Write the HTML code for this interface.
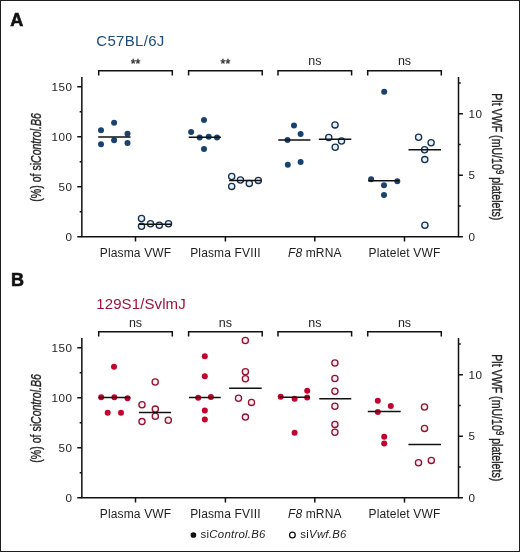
<!DOCTYPE html>
<html><head><meta charset="utf-8"><style>
html,body{margin:0;padding:0;background:#fff;}
svg{display:block;will-change:transform;}
text{font-family:"Liberation Sans",sans-serif;}
.lab{font-size:18px;font-weight:bold;fill:#111;stroke:#111;stroke-width:0.6px;}
.title{font-size:15px;}
.tl{font-size:11.7px;fill:#1e1e1e;letter-spacing:0.55px;}
.sig{font-size:12.5px;fill:#1e1e1e;}
.xl{font-size:12px;fill:#1e1e1e;letter-spacing:0.15px;}
.yt{font-size:14.3px;fill:#222;stroke:#222;stroke-width:0.35px;}
.lg{font-size:11.4px;fill:#1e1e1e;letter-spacing:0.25px;}
</style></head><body>
<svg width="520" height="552" viewBox="0 0 520 552">
<rect x="0.5" y="0.5" width="519" height="551" fill="#fff" stroke="#1e1e1e" stroke-width="1"/>
<text x="10.2" y="25.8" class="lab">A</text>
<text x="10.9" y="285.8" class="lab">B</text>
<path d="M81.85 77V236.8H458.5V77" fill="none" stroke="#111" stroke-width="1.5"/>
<path d="M77.25 236.8H81.85M77.25 186.8H81.85M77.25 136.8H81.85M77.25 86.8H81.85M79.65 211.8H81.85M79.65 161.8H81.85M79.65 111.8H81.85M458.5 236.8H462.9M458.5 175.3H462.9M458.5 113.8H462.9M458.5 206.05H460.7M458.5 144.55H460.7M458.5 83.05H460.7M135.5 236.8V241.4M225.4 236.8V241.4M314.8 236.8V241.4M404.5 236.8V241.4" fill="none" stroke="#111" stroke-width="1.5"/>
<text x="72.6" y="240.9" class="tl" text-anchor="end">0</text>
<text x="72.6" y="190.9" class="tl" text-anchor="end">50</text>
<text x="72.6" y="140.9" class="tl" text-anchor="end">100</text>
<text x="72.6" y="90.9" class="tl" text-anchor="end">150</text>
<text x="468.5" y="240.9" class="tl">0</text>
<text x="468.5" y="179.4" class="tl">5</text>
<text x="468.5" y="117.9" class="tl">10</text>
<path d="M98.7 75.6V70.7H172.3V75.6M188.6 75.6V70.7H262.2V75.6M278 75.6V70.7H351.6V75.6M367.7 75.6V70.7H441.3V75.6" fill="none" stroke="#111" stroke-width="1.5"/>
<text x="135.5" y="67.9" class="sig" text-anchor="middle" stroke="#1e1e1e" stroke-width="0.3">**</text>
<text x="225.4" y="67.9" class="sig" text-anchor="middle" stroke="#1e1e1e" stroke-width="0.3">**</text>
<text x="314.8" y="64.7" class="sig" text-anchor="middle">ns</text>
<text x="404.5" y="64.7" class="sig" text-anchor="middle">ns</text>
<text x="96.3" y="45.8" class="title" fill="#1d4b7c" letter-spacing="0.3">C57BL/6J</text>
<text x="135.5" y="256.9" class="xl" text-anchor="middle">Plasma VWF</text>
<text x="225.4" y="256.9" class="xl" text-anchor="middle">Plasma FVIII</text>
<text x="314.8" y="256.9" class="xl" text-anchor="middle"><tspan font-style="italic">F8</tspan> mRNA</text>
<text x="404.5" y="256.9" class="xl" text-anchor="middle">Platelet VWF</text>
<text class="yt" transform="translate(41.1 201.7) rotate(-90)" textLength="88.6" lengthAdjust="spacingAndGlyphs">(%) of si<tspan font-style="italic">Control.B6</tspan></text>
<text class="yt" transform="translate(491.5 93.2) rotate(90)" textLength="127.1" lengthAdjust="spacingAndGlyphs">Plt VWF (mU/10<tspan dy="-4.6" font-size="10.5">9</tspan><tspan dy="4.6"> platelets)</tspan></text>
<circle cx="101" cy="130.2" r="3.0" fill="#1a426f"/>
<circle cx="114.1" cy="122.8" r="3.0" fill="#1a426f"/>
<circle cx="101" cy="144.2" r="3.0" fill="#1a426f"/>
<circle cx="114.1" cy="140.2" r="3.0" fill="#1a426f"/>
<circle cx="127.5" cy="133.7" r="3.0" fill="#1a426f"/>
<circle cx="127.5" cy="142.9" r="3.0" fill="#1a426f"/>
<circle cx="204" cy="119.9" r="3.0" fill="#1a426f"/>
<circle cx="191.1" cy="132.1" r="3.0" fill="#1a426f"/>
<circle cx="199.7" cy="137.4" r="3.0" fill="#1a426f"/>
<circle cx="208.7" cy="136.7" r="3.0" fill="#1a426f"/>
<circle cx="217" cy="137.4" r="3.0" fill="#1a426f"/>
<circle cx="204" cy="148.9" r="3.0" fill="#1a426f"/>
<circle cx="294" cy="125.4" r="3.0" fill="#1a426f"/>
<circle cx="300.6" cy="134" r="3.0" fill="#1a426f"/>
<circle cx="287.5" cy="140" r="3.0" fill="#1a426f"/>
<circle cx="287.8" cy="164.8" r="3.0" fill="#1a426f"/>
<circle cx="300.6" cy="162.1" r="3.0" fill="#1a426f"/>
<circle cx="384.2" cy="91.7" r="3.0" fill="#1a426f"/>
<circle cx="371.1" cy="179.2" r="3.0" fill="#1a426f"/>
<circle cx="397.3" cy="181.2" r="3.0" fill="#1a426f"/>
<circle cx="384" cy="185.2" r="3.0" fill="#1a426f"/>
<circle cx="384" cy="195.1" r="3.0" fill="#1a426f"/>
<circle cx="141.5" cy="218.5" r="3.1" fill="#e4f2fd" stroke="#182f4c" stroke-width="1.3"/>
<circle cx="141.5" cy="226.2" r="3.1" fill="#e4f2fd" stroke="#182f4c" stroke-width="1.3"/>
<circle cx="150.5" cy="223.75" r="3.1" fill="#e4f2fd" stroke="#182f4c" stroke-width="1.3"/>
<circle cx="159.3" cy="225.2" r="3.1" fill="#e4f2fd" stroke="#182f4c" stroke-width="1.3"/>
<circle cx="168.5" cy="223.75" r="3.1" fill="#e4f2fd" stroke="#182f4c" stroke-width="1.3"/>
<circle cx="231.7" cy="176.5" r="3.1" fill="#e4f2fd" stroke="#182f4c" stroke-width="1.3"/>
<circle cx="231.7" cy="186.4" r="3.1" fill="#e4f2fd" stroke="#182f4c" stroke-width="1.3"/>
<circle cx="240.4" cy="180" r="3.1" fill="#e4f2fd" stroke="#182f4c" stroke-width="1.3"/>
<circle cx="249.3" cy="183.4" r="3.1" fill="#e4f2fd" stroke="#182f4c" stroke-width="1.3"/>
<circle cx="258.3" cy="180.4" r="3.1" fill="#e4f2fd" stroke="#182f4c" stroke-width="1.3"/>
<circle cx="335" cy="124.9" r="3.1" fill="#e4f2fd" stroke="#182f4c" stroke-width="1.3"/>
<circle cx="328.75" cy="137.4" r="3.1" fill="#e4f2fd" stroke="#182f4c" stroke-width="1.3"/>
<circle cx="341.5" cy="141" r="3.1" fill="#e4f2fd" stroke="#182f4c" stroke-width="1.3"/>
<circle cx="335.2" cy="147.3" r="3.1" fill="#e4f2fd" stroke="#182f4c" stroke-width="1.3"/>
<circle cx="418.6" cy="137.2" r="3.1" fill="#e4f2fd" stroke="#182f4c" stroke-width="1.3"/>
<circle cx="431.1" cy="142.8" r="3.1" fill="#e4f2fd" stroke="#182f4c" stroke-width="1.3"/>
<circle cx="424.6" cy="149.7" r="3.1" fill="#e4f2fd" stroke="#182f4c" stroke-width="1.3"/>
<circle cx="424.8" cy="159.6" r="3.1" fill="#e4f2fd" stroke="#182f4c" stroke-width="1.3"/>
<circle cx="424.9" cy="225.3" r="3.1" fill="#e4f2fd" stroke="#182f4c" stroke-width="1.3"/>
<path d="M98.2 137H130.5M188.7 137.2H220.9M278.2 140H310.4M368.2 180.7H399.4M139 224.2H171.3M229.1 180.5H261.3M318.8 139.3H351.3M408.5 149.7H441" fill="none" stroke="#111" stroke-width="1.5"/>
<path d="M81.85 338V497.8H458.5V338" fill="none" stroke="#111" stroke-width="1.5"/>
<path d="M77.25 497.8H81.85M77.25 447.8H81.85M77.25 397.8H81.85M77.25 347.8H81.85M79.65 472.8H81.85M79.65 422.8H81.85M79.65 372.8H81.85M458.5 497.8H462.9M458.5 436.3H462.9M458.5 374.8H462.9M458.5 467.05H460.7M458.5 405.55H460.7M458.5 344.05H460.7M135.5 497.8V502.4M225.4 497.8V502.4M314.8 497.8V502.4M404.5 497.8V502.4" fill="none" stroke="#111" stroke-width="1.5"/>
<text x="72.6" y="501.9" class="tl" text-anchor="end">0</text>
<text x="72.6" y="451.9" class="tl" text-anchor="end">50</text>
<text x="72.6" y="401.9" class="tl" text-anchor="end">100</text>
<text x="72.6" y="351.9" class="tl" text-anchor="end">150</text>
<text x="468.5" y="501.9" class="tl">0</text>
<text x="468.5" y="440.4" class="tl">5</text>
<text x="468.5" y="378.9" class="tl">10</text>
<path d="M98.7 336.6V331.7H172.3V336.6M188.6 336.6V331.7H262.2V336.6M278 336.6V331.7H351.6V336.6M367.7 336.6V331.7H441.3V336.6" fill="none" stroke="#111" stroke-width="1.5"/>
<text x="135.5" y="326.5" class="sig" text-anchor="middle">ns</text>
<text x="225.4" y="326.5" class="sig" text-anchor="middle">ns</text>
<text x="314.8" y="326.5" class="sig" text-anchor="middle">ns</text>
<text x="404.5" y="326.5" class="sig" text-anchor="middle">ns</text>
<text x="96.3" y="308.8" class="title" fill="#9e1238" letter-spacing="0.1">129S1/SvlmJ</text>
<text x="135.5" y="517.9" class="xl" text-anchor="middle">Plasma VWF</text>
<text x="225.4" y="517.9" class="xl" text-anchor="middle">Plasma FVIII</text>
<text x="314.8" y="517.9" class="xl" text-anchor="middle"><tspan font-style="italic">F8</tspan> mRNA</text>
<text x="404.5" y="517.9" class="xl" text-anchor="middle">Platelet VWF</text>
<text class="yt" transform="translate(41.1 462.7) rotate(-90)" textLength="88.6" lengthAdjust="spacingAndGlyphs">(%) of si<tspan font-style="italic">Control.B6</tspan></text>
<text class="yt" transform="translate(491.5 354.2) rotate(90)" textLength="127.1" lengthAdjust="spacingAndGlyphs">Plt VWF (mU/10<tspan dy="-4.6" font-size="10.5">9</tspan><tspan dy="4.6"> platelets)</tspan></text>
<circle cx="114" cy="366.7" r="3.0" fill="#c0042f"/>
<circle cx="101.2" cy="397.3" r="3.0" fill="#c0042f"/>
<circle cx="114.4" cy="397.3" r="3.0" fill="#c0042f"/>
<circle cx="127.5" cy="398.3" r="3.0" fill="#c0042f"/>
<circle cx="107.7" cy="412.7" r="3.0" fill="#c0042f"/>
<circle cx="121" cy="412.7" r="3.0" fill="#c0042f"/>
<circle cx="204.8" cy="356.3" r="3.0" fill="#c0042f"/>
<circle cx="204.8" cy="376.2" r="3.0" fill="#c0042f"/>
<circle cx="198.2" cy="397.8" r="3.0" fill="#c0042f"/>
<circle cx="210.9" cy="397" r="3.0" fill="#c0042f"/>
<circle cx="204.8" cy="410.4" r="3.0" fill="#c0042f"/>
<circle cx="204.8" cy="419.5" r="3.0" fill="#c0042f"/>
<circle cx="280.7" cy="396.7" r="3.0" fill="#c0042f"/>
<circle cx="294.6" cy="398.8" r="3.0" fill="#c0042f"/>
<circle cx="307.2" cy="390.7" r="3.0" fill="#c0042f"/>
<circle cx="307.2" cy="397.6" r="3.0" fill="#c0042f"/>
<circle cx="294.6" cy="432.7" r="3.0" fill="#c0042f"/>
<circle cx="377.8" cy="400.7" r="3.0" fill="#c0042f"/>
<circle cx="390.8" cy="405.9" r="3.0" fill="#c0042f"/>
<circle cx="377.8" cy="412" r="3.0" fill="#c0042f"/>
<circle cx="384.2" cy="436.7" r="3.0" fill="#c0042f"/>
<circle cx="384.2" cy="443.6" r="3.0" fill="#c0042f"/>
<circle cx="155.2" cy="382" r="3.1" fill="#fdecf0" stroke="#92112f" stroke-width="1.3"/>
<circle cx="142" cy="404.8" r="3.1" fill="#fdecf0" stroke="#92112f" stroke-width="1.3"/>
<circle cx="155.3" cy="409.1" r="3.1" fill="#fdecf0" stroke="#92112f" stroke-width="1.3"/>
<circle cx="155.3" cy="416.2" r="3.1" fill="#fdecf0" stroke="#92112f" stroke-width="1.3"/>
<circle cx="142" cy="421.6" r="3.1" fill="#fdecf0" stroke="#92112f" stroke-width="1.3"/>
<circle cx="168.3" cy="420.2" r="3.1" fill="#fdecf0" stroke="#92112f" stroke-width="1.3"/>
<circle cx="245.3" cy="340.5" r="3.1" fill="#fdecf0" stroke="#92112f" stroke-width="1.3"/>
<circle cx="245.4" cy="371.8" r="3.1" fill="#fdecf0" stroke="#92112f" stroke-width="1.3"/>
<circle cx="245.4" cy="378.8" r="3.1" fill="#fdecf0" stroke="#92112f" stroke-width="1.3"/>
<circle cx="238.5" cy="398.2" r="3.1" fill="#fdecf0" stroke="#92112f" stroke-width="1.3"/>
<circle cx="251.5" cy="402.4" r="3.1" fill="#fdecf0" stroke="#92112f" stroke-width="1.3"/>
<circle cx="245.4" cy="417.1" r="3.1" fill="#fdecf0" stroke="#92112f" stroke-width="1.3"/>
<circle cx="334.9" cy="363" r="3.1" fill="#fdecf0" stroke="#92112f" stroke-width="1.3"/>
<circle cx="334.9" cy="378.5" r="3.1" fill="#fdecf0" stroke="#92112f" stroke-width="1.3"/>
<circle cx="334.9" cy="391.2" r="3.1" fill="#fdecf0" stroke="#92112f" stroke-width="1.3"/>
<circle cx="334.9" cy="406.2" r="3.1" fill="#fdecf0" stroke="#92112f" stroke-width="1.3"/>
<circle cx="334.9" cy="424.4" r="3.1" fill="#fdecf0" stroke="#92112f" stroke-width="1.3"/>
<circle cx="334.9" cy="432.2" r="3.1" fill="#fdecf0" stroke="#92112f" stroke-width="1.3"/>
<circle cx="424.5" cy="407" r="3.1" fill="#fdecf0" stroke="#92112f" stroke-width="1.3"/>
<circle cx="424.5" cy="428.4" r="3.1" fill="#fdecf0" stroke="#92112f" stroke-width="1.3"/>
<circle cx="418.5" cy="462.7" r="3.1" fill="#fdecf0" stroke="#92112f" stroke-width="1.3"/>
<circle cx="431.3" cy="460.4" r="3.1" fill="#fdecf0" stroke="#92112f" stroke-width="1.3"/>
<path d="M98.7 397.5H130.4M189 397.5H220.7M279 397.2H309.8M367.8 411.6H400.7M138.9 412.6H171.1M229.1 388.2H261.7M319.3 398.8H351.3M408.4 444.5H441" fill="none" stroke="#111" stroke-width="1.5"/>
<circle cx="193.4" cy="535" r="2.85" fill="#111"/>
<text x="200.6" y="538.4" class="lg">si<tspan font-style="italic">Control.B6</tspan></text>
<circle cx="292.4" cy="535" r="2.85" fill="#fff" stroke="#111" stroke-width="1.3"/>
<text x="300.3" y="538.4" class="lg">si<tspan font-style="italic">Vwf.B6</tspan></text>
</svg>
</body></html>
